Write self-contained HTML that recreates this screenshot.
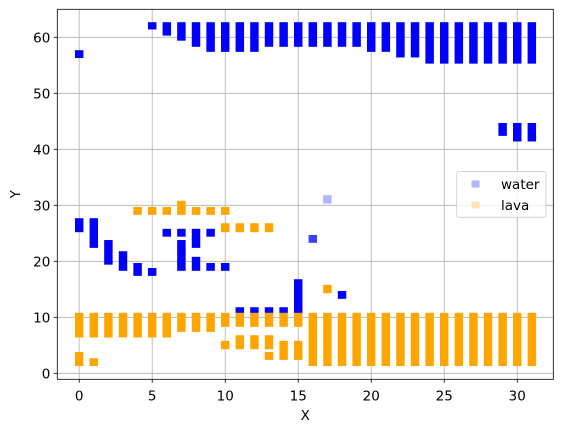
<!DOCTYPE html>
<html><head><meta charset="utf-8"><style>
html,body{margin:0;padding:0;background:#fff;}
svg{display:block;font-family:"DejaVu Sans","Liberation Sans",sans-serif;}
</style></head><body>
<svg id="chart" width="562" height="432" viewBox="0 0 562 432"></svg>
<script>
const blueX   = [0,5,6,7,8,9,10,11,12,13,14,15,16,17,18,19,20,21,22,23,24,25,26,27,28,29,30,31, 29,30,31, 0,1,2,3,4,5,6,7,7,8,8,9,9,10,11,12,13,14,15,18];
const blueLo  = [56.3,61.4,60.3,59.4,58.3,57.4,57.4,57.4,57.4,58.3,58.3,58.3,58.3,58.3,58.3,58.3,57.4,57.4,56.4,56.4,55.3,55.3,55.3,55.3,55.3,55.3,55.3,55.3, 42.4,41.4,41.4, 25.2,22.4,19.4,18.3,17.4,17.4,24.4,24.4,18.3,22.4,18.3,24.4,18.3,18.3,10.8,10.8,10.8,10.8,10.8,13.3];
const blueHi  = [57.7,62.7,62.7,62.7,62.7,62.7,62.7,62.7,62.7,62.7,62.7,62.7,62.7,62.7,62.7,62.7,62.7,62.7,62.7,62.7,62.7,62.7,62.7,62.7,62.7,62.7,62.7,62.7, 44.7,44.7,44.7, 27.7,27.7,23.8,21.8,19.7,18.8,25.8,25.8,23.8,25.8,20.8,25.8,19.7,19.7,11.8,11.8,11.8,11.8,16.8,14.7];
const lavaX   = [4,5,6,7,8,9,10, 10,11,12,13, 0,1,2,3,4,5,6,7,8,9,10,11,12,13,14,15, 10,11,12,13,13,14,15, 0,1, 16,17,18,19,20,21,22,23,24,25,26,27,28,29,30,31, 17];
const lavaLo  = [28.3,28.3,28.3,28.3,28.3,28.3,28.3, 25.2,25.2,25.2,25.2, 6.4,6.4,6.4,6.4,6.4,6.4,6.4,7.4,7.4,7.4,8.3,8.3,8.3,8.3,8.3,8.3, 4.3,4.3,4.3,4.3,2.4,2.4,2.4, 1.3,1.3, 1.3,1.3,1.3,1.3,1.3,1.3,1.3,1.3,1.3,1.3,1.3,1.3,1.3,1.3,1.3,1.3, 14.3];
const lavaHi  = [29.7,29.7,29.7,30.8,29.7,29.7,29.7, 26.8,26.8,26.8,26.8, 10.8,10.8,10.8,10.8,10.8,10.8,10.8,10.8,10.8,10.8,10.8,10.8,10.8,10.8,10.8,10.8, 5.8,6.8,6.8,6.8,3.8,5.8,5.8, 3.8,2.7, 10.8,10.8,10.8,10.8,10.8,10.8,10.8,10.8,10.8,10.8,10.8,10.8,10.8,10.8,10.8,10.8, 15.8];
const extraX  = [16,17];
const extraLo = [23.3,30.3];
const extraHi = [24.7,31.8];
const extraC  = ['#3f3fff','#b3b3ff'];
const xTicks = [0,5,10,15,20,25,30];
const yTicks = [0,10,20,30,40,50,60];

const svg = document.getElementById('chart');
const NS = 'http://www.w3.org/2000/svg';
const L=57.3,R=553.3,T=9.3,B=379.3;
const xmin=-1.5,xmax=32.47,ymin=-1.07,ymax=65;
const sx=v=>L+(v-xmin)/(xmax-xmin)*(R-L);
const sy=v=>B-(v-ymin)/(ymax-ymin)*(B-T);
function mk(tag,attrs){const e=document.createElementNS(NS,tag);for(const k in attrs)e.setAttribute(k,attrs[k]);svg.appendChild(e);return e;}

xTicks.forEach(t=>{
  const g=mk('line',{x1:sx(t),x2:sx(t),y1:T,y2:B,stroke:'#b0b0b0','stroke-width':0.8});
  
  
});
yTicks.forEach(t=>{
  const g=mk('line',{x1:L,x2:R,y1:sy(t),y2:sy(t),stroke:'#b0b0b0','stroke-width':0.8});
  
  
});
const W=0.58;
function bars(xs,lo,hi,col,name){
  xs.forEach((x,i)=>{
    const r=mk('rect',{x:sx(x-W/2),y:sy(hi[i]),width:sx(x+W/2)-sx(x-W/2),height:sy(lo[i])-sy(hi[i]),fill:Array.isArray(col)?col[i]:col});
    
    
  });
}
bars(lavaX,lavaLo,lavaHi,'#ffa500','lava-bar');
bars(blueX,blueLo,blueHi,'#0000ff','water-bar');
bars(extraX,extraLo,extraHi,extraC,'water-point');

const f=mk('rect',{x:L,y:T,width:R-L,height:B-T,fill:'none',stroke:'#000','stroke-width':0.8});


xTicks.forEach(t=>{
  mk('line',{x1:sx(t),x2:sx(t),y1:B,y2:B+3.5,stroke:'#000','stroke-width':0.8});
  const tx=mk('text',{x:sx(t),y:B+21,'text-anchor':'middle','font-size':13.5,fill:'#000'});
  tx.textContent=t;
  
  
});
yTicks.forEach(t=>{
  mk('line',{x1:L-3.5,x2:L,y1:sy(t),y2:sy(t),stroke:'#000','stroke-width':0.8});
  const tx=mk('text',{x:L-7,y:sy(t)+5,'text-anchor':'end','font-size':13.5,fill:'#000'});
  tx.textContent=t;
  
  
});
const xl=mk('text',{x:(L+R)/2,y:420,'text-anchor':'middle','font-size':13.5});
xl.textContent='X';


const yl=mk('text',{x:20,y:(T+B)/2,'text-anchor':'middle','font-size':13.5,transform:'rotate(-90 20 '+((T+B)/2)+')'});
yl.textContent='Y';



const lg=mk('rect',{x:456.7,y:171.7,width:89.3,height:45.6,rx:2,fill:'#fff','fill-opacity':0.8,stroke:'#cccccc','stroke-width':0.8});


[['water','#b3b3ff',184],['lava','#ffe4b3',205]].forEach(([n,c,y])=>{
  const m=mk('rect',{x:471.5,y:y-3.5,width:8,height:7,fill:c});
  
  
  const t=mk('text',{x:501,y:y+5,'font-size':13.5,fill:'#000'});
  t.textContent=n;
  
  
});
</script>
</body></html>
